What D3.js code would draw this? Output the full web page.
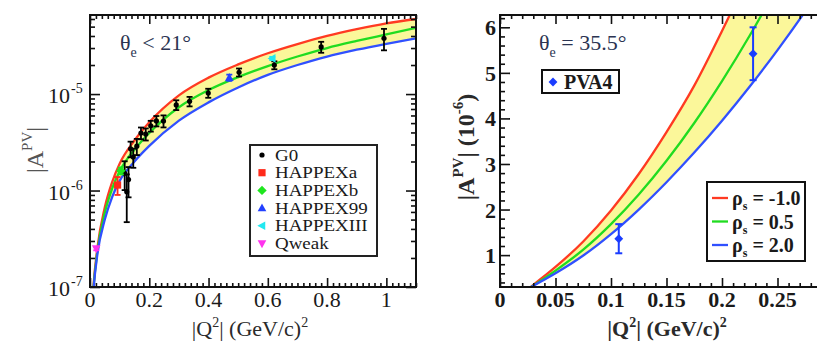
<!DOCTYPE html>
<html><head><meta charset="utf-8">
<script src="https://cdn.jsdelivr.net/npm/d3@7"></script>
<style>
body{margin:0;background:#fff}
svg{display:block}
text{font-family:"Liberation Serif","Times New Roman",serif}
</style>
</head><body>
<svg id="chart" width="817" height="341"></svg>
<script>
// ---- Left panel: forward-angle asymmetries (theta_e < 21 deg) ----
const leftQ2   = [0.008, 0.012, 0.025, 0.05, 0.075, 0.1, 0.15, 0.2, 0.3, 0.4, 0.5, 0.6, 0.7, 0.8, 0.9, 1.0, 1.1];
const leftRed  = [6.9e-8, 1.05e-7, 2.55e-7, 6.7e-7, 1.23e-6, 1.9e-6, 3.3e-6, 5.1e-6, 9.7e-6, 1.48e-5, 2.03e-5, 2.65e-5, 3.3e-5, 4.0e-5, 4.7e-5, 5.4e-5, 6.0e-5];
const leftGreen= [6.6e-8, 1.0e-7, 2.35e-7, 5.9e-7, 1.05e-6, 1.58e-6, 2.65e-6, 3.95e-6, 7.3e-6, 1.1e-5, 1.5e-5, 1.95e-5, 2.45e-5, 3.0e-5, 3.55e-5, 4.15e-5, 4.85e-5];
const leftBlue = [6.3e-8, 0.95e-7, 2.2e-7, 5.0e-7, 8.6e-7, 1.26e-6, 2.0e-6, 2.9e-6, 5.3e-6, 8.2e-6, 1.17e-5, 1.58e-5, 2.0e-5, 2.45e-5, 2.88e-5, 3.32e-5, 3.78e-5];

const g0Q2  = [0.117, 0.124, 0.130, 0.137, 0.146, 0.158, 0.172, 0.188, 0.205, 0.224, 0.248, 0.291, 0.336, 0.399, 0.503, 0.622, 0.780, 0.992];
const g0A   = [1.51e-6, 0.97e-6, 1.30e-6, 2.71e-6, 2.22e-6, 2.88e-6, 3.95e-6, 3.85e-6, 4.68e-6, 5.27e-6, 5.26e-6, 7.72e-6, 8.40e-6, 1.025e-5, 1.68e-5, 1.996e-5, 3.08e-5, 3.79e-5];
const g0Err = [0.5e-6, 0.5e-6, 0.45e-6, 0.5e-6, 0.5e-6, 0.55e-6, 0.55e-6, 0.55e-6, 0.6e-6, 0.65e-6, 0.75e-6, 0.9e-6, 0.95e-6, 1.1e-6, 1.6e-6, 1.9e-6, 4.0e-6, 9.5e-6];

const happexNames = ["HAPPEXa", "HAPPEXb", "HAPPEX99", "HAPPEXIII", "Qweak"];
const happexQ2    = [0.093, 0.104, 0.470, 0.615, 0.021];
const happexA     = [1.14e-6, 1.60e-6, 1.48e-5, 2.34e-5, 2.5e-7];
const happexErr   = [0.24e-6, 0.13e-6, 1.1e-6, 0.9e-6, 0.1e-7];
const happexColor = ["#ff2a1a", "#1ee61e", "#2240ff", "#22e8f0", "#ff33ee"];
const happexShape = ["square", "diamond", "up", "left", "down"];

const leftXTicks = [0, 0.2, 0.4, 0.6, 0.8, 1];
const leftXLabels = ["0", "0.2", "0.4", "0.6", "0.8", "1"];
const leftYDecades = [-7, -6, -5];

// ---- Right panel: backward angle (theta_e = 35.5 deg) ----
const rightQ2    = [0.028, 0.05, 0.075, 0.1, 0.125, 0.15, 0.175, 0.2, 0.225, 0.25, 0.275, 0.3];
const rightRed   = [0.31, 0.74, 1.30, 1.98, 2.78, 3.70, 4.72, 5.92, 7.2, 8.55, 10.0, 11.5];
const rightGreen = [0.30, 0.66, 1.12, 1.68, 2.33, 3.07, 3.90, 4.82, 5.82, 6.90, 8.05, 9.25];
const rightBlue  = [0.30, 0.60, 0.99, 1.46, 2.00, 2.60, 3.25, 3.95, 4.70, 5.50, 6.35, 7.25];

const pva4Q2  = [0.107, 0.228];
const pva4A   = [1.36, 5.42];
const pva4Err = [0.32, 0.58];

const rightXTicks  = [0, 0.05, 0.1, 0.15, 0.2, 0.25];
const rightXLabels = ["0", "0.05", "0.1", "0.15", "0.2", "0.25"];
const rightYTicks  = [1, 2, 3, 4, 5, 6];
const rhoLabels    = ["-1.0", "0.5", "2.0"];

const RED = "#ff3a22", GREEN = "#20dc20", BLUE = "#3050ff", BAND = "#fbf79a";

const svg = d3.select("#chart");

const xL = d3.scaleLinear().domain([0, 1.1]).range([90, 416]);
const yL = d3.scaleLog().domain([1e-7, 6.6e-5]).range([287, 15]);
const xR = d3.scaleLinear().domain([0, 0.3]).range([500, 833]);
const yR = d3.scaleLinear().domain([0.3, 6.27]).range([287, 15]);

const defs = svg.append("defs");
defs.append("clipPath").attr("id", "clipL").append("rect")
  .attr("x", 90).attr("y", 15).attr("width", 326).attr("height", 272);
defs.append("clipPath").attr("id", "clipR").append("rect")
  .attr("x", 500).attr("y", 15).attr("width", 330).attr("height", 272);

function drawBand(g, xs, lo, hi, mid, x, y) {
  const pts = xs.map((q, i) => ({q, lo: lo[i], hi: hi[i], mid: mid[i]}));
  g.append("path").datum(pts)
    .attr("d", d3.area().x(d => x(d.q)).y0(d => y(d.lo)).y1(d => y(d.hi)).curve(d3.curveMonotoneX))
    .attr("fill", BAND);
  [["hi", RED], ["mid", GREEN], ["lo", BLUE]].forEach(([k, c]) => {
    g.append("path").datum(pts)
      .attr("d", d3.line().x(d => x(d.q)).y(d => y(d[k])).curve(d3.curveMonotoneX))
      .attr("fill", "none").attr("stroke", c).attr("stroke-width", 2.3);
  });
}

function tickAxis(axisFn, scale, vals, size, tx, ty) {
  svg.append("g").attr("transform", `translate(${tx},${ty})`)
    .call(axisFn(scale).tickValues(vals).tickSize(-size).tickFormat(""))
    .call(g => g.select(".domain").remove())
    .call(g => g.selectAll("line").attr("stroke", "#111").attr("stroke-width", 1.6));
}

function marker(g, shape, cx, cy, color, s) {
  let p;
  if (shape === "square") p = `M${cx-s},${cy-s}h${2*s}v${2*s}h${-2*s}Z`;
  else if (shape === "diamond") p = `M${cx},${cy-s*1.3}L${cx+s*1.3},${cy}L${cx},${cy+s*1.3}L${cx-s*1.3},${cy}Z`;
  else if (shape === "up") p = `M${cx},${cy-s*1.3}L${cx+s*1.2},${cy+s*0.9}L${cx-s*1.2},${cy+s*0.9}Z`;
  else if (shape === "down") p = `M${cx},${cy+s*1.3}L${cx+s*1.2},${cy-s*0.9}L${cx-s*1.2},${cy-s*0.9}Z`;
  else if (shape === "left") p = `M${cx-s*1.3},${cy}L${cx+s*0.9},${cy-s*1.2}L${cx+s*0.9},${cy+s*1.2}Z`;
  else { g.append("circle").attr("cx", cx).attr("cy", cy).attr("r", s).attr("fill", color); return; }
  g.append("path").attr("d", p).attr("fill", color);
}

function errBar(g, cx, yTop, yBot, color, w, cap) {
  g.append("line").attr("x1", cx).attr("x2", cx).attr("y1", yTop).attr("y2", yBot)
    .attr("stroke", color).attr("stroke-width", w);
  [yTop, yBot].forEach(yy => g.append("line").attr("x1", cx - cap).attr("x2", cx + cap)
    .attr("y1", yy).attr("y2", yy).attr("stroke", color).attr("stroke-width", w));
}

// ================= LEFT PANEL =================
const gL = svg.append("g").attr("clip-path", "url(#clipL)");
drawBand(gL, leftQ2, leftBlue, leftRed, leftGreen, xL, yL);

// G0 points
g0Q2.forEach((q, i) => {
  errBar(gL, xL(q), yL(g0A[i] + g0Err[i]), yL(g0A[i] - g0Err[i]), "#000", 1.8, 3);
  marker(gL, "circle", xL(q), yL(g0A[i]), "#000", 2.6);
});
// other experiments
happexQ2.forEach((q, i) => {
  errBar(gL, xL(q), yL(happexA[i] + happexErr[i]), yL(happexA[i] - happexErr[i]), happexColor[i], 1.8, 3);
  marker(gL, happexShape[i], xL(q), yL(happexA[i]), happexColor[i], 3.6);
});

// ticks (inward on all four sides)
const lxMinor = d3.range(0, 56).map(i => i * 0.02).filter(v => v <= 1.1 && Math.abs(v / 0.2 - Math.round(v / 0.2)) > 1e-6);
tickAxis(d3.axisBottom, xL, lxMinor, 4, 0, 287);
tickAxis(d3.axisBottom, xL, leftXTicks, 9, 0, 287);
tickAxis(d3.axisTop, xL, lxMinor, 4, 0, 15);
tickAxis(d3.axisTop, xL, leftXTicks, 9, 0, 15);
const lyMinor = [];
[-7, -6, -5].forEach(e => d3.range(2, 10).forEach(m => { const v = m * Math.pow(10, e); if (v < 6.6e-5) lyMinor.push(v); }));
const lyMajor = leftYDecades.map(e => Math.pow(10, e));
tickAxis(d3.axisLeft, yL, lyMinor, 5, 90, 0);
tickAxis(d3.axisLeft, yL, lyMajor, 10, 90, 0);
tickAxis(d3.axisRight, yL, lyMinor, 5, 416, 0);
tickAxis(d3.axisRight, yL, lyMajor, 10, 416, 0);

svg.append("rect").attr("x", 90).attr("y", 15).attr("width", 326).attr("height", 272)
  .attr("fill", "none").attr("stroke", "#111").attr("stroke-width", 2);

// tick labels
leftXTicks.forEach((v, i) => svg.append("text").attr("x", xL(v)).attr("y", 307)
  .attr("text-anchor", "middle").style("font-size", "22px").attr("fill", "#1a1a1a").text(leftXLabels[i]));
leftYDecades.forEach(e => {
  const yy = yL(Math.pow(10, e));
  svg.append("text").attr("x", 70).attr("y", yy + 9).attr("text-anchor", "end")
    .style("font-size", "22px").attr("fill", "#1a1a1a").text("10");
  svg.append("text").attr("x", 71).attr("y", yy - 1)
    .style("font-size", "14px").attr("fill", "#1a1a1a").text("-" + (-e));
});

// axis titles
const lyt = svg.append("text").attr("transform", "translate(43,150) rotate(-90)")
  .attr("text-anchor", "middle").style("font-size", "24px").attr("fill", "#555");
lyt.append("tspan").text("|A");
lyt.append("tspan").attr("dy", -11).style("font-size", "15px").text("PV");
lyt.append("tspan").attr("dy", 11).text("|");

const lxt = svg.append("text").attr("x", 250).attr("y", 336).attr("text-anchor", "middle")
  .style("font-size", "22px").attr("fill", "#2a2a2a");
lxt.append("tspan").text("|Q");
lxt.append("tspan").attr("dy", -9).style("font-size", "14px").text("2");
lxt.append("tspan").attr("dy", 9).text("| (GeV/c)");
lxt.append("tspan").attr("dy", -9).style("font-size", "14px").text("2");

// angle note
const thL = svg.append("text").attr("x", 120).attr("y", 50).style("font-size", "22px").attr("fill", "#2b3452");
thL.append("tspan").text("θ");
thL.append("tspan").attr("dy", 7).style("font-size", "14px").text("e");
thL.append("tspan").attr("dy", -7).text(" < 21°");

// legend (compact rows; glyphs widened horizontally)
svg.append("rect").attr("x", 250).attr("y", 145).attr("width", 127).attr("height", 111)
  .attr("fill", "#fff").attr("stroke", "#222").attr("stroke-width", 2);
const legNames = ["G0"].concat(happexNames);
const legColors = ["#000"].concat(happexColor);
const legShapes = ["circle"].concat(happexShape);
legNames.forEach((n, i) => {
  const yy = 155 + i * 17.7;
  marker(svg, legShapes[i], 262, yy, legColors[i], legShapes[i] === "circle" ? 2.6 : 3.6);
  svg.append("text").attr("transform", `translate(275,${yy + 5.5}) scale(1.2,1)`)
    .style("font-size", "15.8px").attr("fill", "#1a1a1a").text(n);
});

// ================= RIGHT PANEL =================
const gR = svg.append("g").attr("clip-path", "url(#clipR)");
drawBand(gR, rightQ2, rightBlue, rightRed, rightGreen, xR, yR);
pva4Q2.forEach((q, i) => {
  errBar(gR, xR(q), yR(pva4A[i] + pva4Err[i]), yR(pva4A[i] - pva4Err[i]), "#1a3cff", 2, 3.5);
  marker(gR, "diamond", xR(q), yR(pva4A[i]), "#1a3cff", 3.4);
});

const rxMinor = d3.range(0, 31).map(i => i * 0.01).filter(v => Math.abs(v / 0.05 - Math.round(v / 0.05)) > 1e-6);
tickAxis(d3.axisBottom, xR, rxMinor, 4, 0, 287);
tickAxis(d3.axisBottom, xR, rightXTicks, 9, 0, 287);
tickAxis(d3.axisTop, xR, rxMinor, 4, 0, 15);
tickAxis(d3.axisTop, xR, rightXTicks, 9, 0, 15);
const ryMinor = d3.range(2, 32).map(i => i * 0.2).filter(v => v < 6.27 && Math.abs(v - Math.round(v)) > 1e-6);
tickAxis(d3.axisLeft, yR, ryMinor, 5, 500, 0);
tickAxis(d3.axisLeft, yR, rightYTicks, 10, 500, 0);

svg.append("path").attr("d", "M830,15H500V287H830")
  .attr("fill", "none").attr("stroke", "#111").attr("stroke-width", 2);

rightXTicks.forEach((v, i) => svg.append("text").attr("x", xR(v)).attr("y", 307)
  .attr("text-anchor", "middle").style("font-size", "22px").style("font-weight", "bold")
  .attr("fill", "#1a1a1a").text(rightXLabels[i]));
rightYTicks.forEach(v => svg.append("text").attr("x", 496).attr("y", yR(v) + 8)
  .attr("text-anchor", "end").style("font-size", "22px").style("font-weight", "bold")
  .attr("fill", "#1a1a1a").text(v));

const ryt = svg.append("text").attr("transform", "translate(474,147) rotate(-90)")
  .attr("text-anchor", "middle").style("font-size", "24px").style("font-weight", "bold").attr("fill", "#2a2a2a");
ryt.append("tspan").text("|A");
ryt.append("tspan").attr("dy", -11).style("font-size", "15px").text("PV");
ryt.append("tspan").attr("dy", 11).text("| (10");
ryt.append("tspan").attr("dy", -11).style("font-size", "15px").text("-6");
ryt.append("tspan").attr("dy", 11).text(")");

const rxt = svg.append("text").attr("x", 667).attr("y", 336).attr("text-anchor", "middle")
  .style("font-size", "22px").style("font-weight", "bold").attr("fill", "#2a2a2a");
rxt.append("tspan").text("|Q");
rxt.append("tspan").attr("dy", -9).style("font-size", "14px").text("2");
rxt.append("tspan").attr("dy", 9).text("| (GeV/c)");
rxt.append("tspan").attr("dy", -9).style("font-size", "14px").text("2");

const thR = svg.append("text").attr("x", 539).attr("y", 50).style("font-size", "22px").attr("fill", "#2b3452");
thR.append("tspan").text("θ");
thR.append("tspan").attr("dy", 7).style("font-size", "14px").text("e");
thR.append("tspan").attr("dy", -7).text(" = 35.5°");

// PVA4 legend
svg.append("rect").attr("x", 542).attr("y", 70).attr("width", 77).attr("height", 23)
  .attr("fill", "#fff").attr("stroke", "#111").attr("stroke-width", 2);
marker(svg, "diamond", 553, 82, "#1a3cff", 3.4);
svg.append("text").attr("x", 564).attr("y", 89).style("font-size", "20px").style("font-weight", "bold")
  .attr("fill", "#1a1a1a").text("PVA4");

// rho_s legend
svg.append("rect").attr("x", 707).attr("y", 182).attr("width", 98).attr("height", 79)
  .attr("fill", "#fff").attr("stroke", "#111").attr("stroke-width", 2);
[RED, GREEN, BLUE].forEach((c, i) => {
  const yy = 198 + i * 23.5;
  svg.append("line").attr("x1", 712).attr("x2", 728).attr("y1", yy).attr("y2", yy)
    .attr("stroke", c).attr("stroke-width", 2.3);
  const t = svg.append("text").attr("x", 732).attr("y", yy + 7).style("font-size", "20px")
    .style("font-weight", "bold").attr("fill", "#1a1a1a");
  t.append("tspan").text("ρ");
  t.append("tspan").attr("dy", 5).style("font-size", "12px").text("s");
  t.append("tspan").attr("dy", -5).text(" = " + rhoLabels[i]);
});
</script>
</body></html>
